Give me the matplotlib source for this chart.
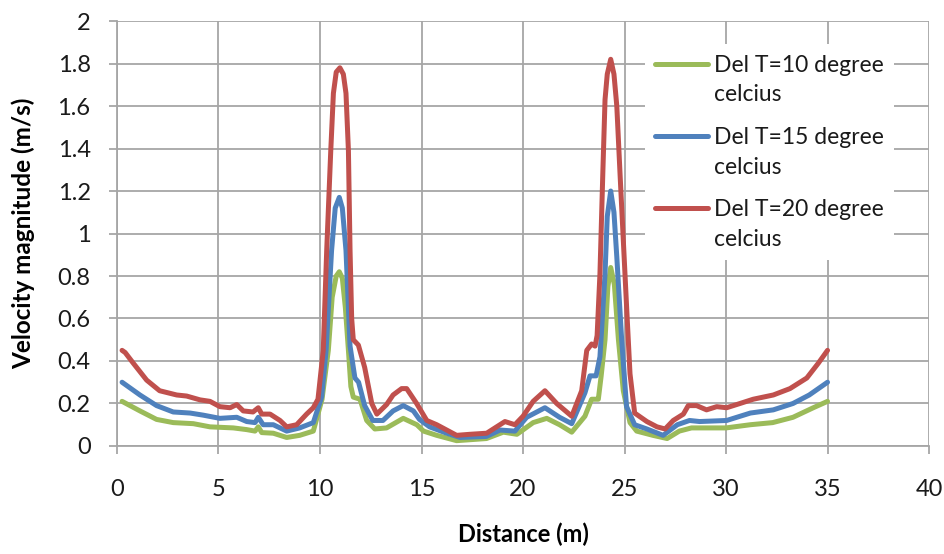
import matplotlib.pyplot as plt

# Del T = 20 degree
x_red = [0.25, 0.4, 0.8, 1.46, 2.1, 2.94, 3.43, 4.09, 4.58, 5.07, 5.57, 5.9, 6.22, 6.7, 6.96,
         7.13, 7.54, 8.03, 8.36, 8.85, 9.34, 9.67, 9.9, 10.16, 10.33, 10.53, 10.66, 10.8, 10.98,
         11.15, 11.28, 11.4, 11.48, 11.56, 11.64, 11.89, 12.2, 12.55, 12.8, 13.28, 13.6, 14.02,
         14.27, 14.76, 15.26, 15.75, 16.73, 17.39, 18.21, 18.7, 19.11, 19.6, 20.0, 20.5, 21.08,
         21.66, 22.4, 22.89, 23.14, 23.38, 23.55, 23.65, 23.79, 23.93, 24.04, 24.15, 24.32, 24.48,
         24.62, 24.78, 24.94, 25.1, 25.27, 25.5, 26.1, 26.6, 27.0, 27.4, 27.9, 28.14, 28.55,
         29.04, 29.54, 30.03, 30.69, 31.34, 32.33, 33.15, 33.98, 34.55, 35.0]
y_red = [0.45, 0.44, 0.39, 0.31, 0.26, 0.24, 0.235, 0.217, 0.21, 0.185, 0.18, 0.195, 0.165, 0.16, 0.18,
         0.15, 0.15, 0.12, 0.09, 0.10, 0.15, 0.18, 0.22, 0.45, 0.92, 1.39, 1.66, 1.76, 1.78,
         1.75, 1.66, 1.39, 0.92, 0.6, 0.5, 0.475, 0.37, 0.2, 0.15, 0.195, 0.24, 0.27,
         0.27, 0.2, 0.12, 0.1, 0.05, 0.055, 0.06, 0.09, 0.115, 0.10, 0.14, 0.21, 0.26,
         0.2, 0.14, 0.26, 0.45, 0.48, 0.47, 0.52, 0.81, 1.28, 1.63, 1.75, 1.82, 1.75,
         1.6, 1.28, 0.97, 0.66, 0.34, 0.155, 0.115, 0.09, 0.08, 0.12, 0.15, 0.19, 0.19,
         0.17, 0.185, 0.18, 0.2, 0.22, 0.24, 0.27, 0.32, 0.39, 0.45]

# Del T = 15 degree
x_blue = [0.25, 1.13, 1.95, 2.77, 3.6, 4.25, 5.07, 5.9, 6.39, 6.8, 6.96, 7.2, 7.7, 8.36, 9.0,
          9.67, 10.08, 10.3, 10.57, 10.75, 10.95, 11.1, 11.28, 11.48, 11.72, 11.9, 12.2, 12.6,
          13.1, 13.6, 14.1, 14.6, 14.9, 15.4, 16.24, 16.9, 18.2, 18.87, 19.6, 20.18, 21.08, 21.8,
          22.4, 23.05, 23.3, 23.46, 23.6, 23.79, 24.04, 24.15, 24.32, 24.48, 24.62, 24.86, 25.1,
          25.5, 26.1, 26.9, 27.6, 28.2, 28.7, 30.03, 31.2, 32.33, 33.3, 34.1, 35.0]
y_blue = [0.30, 0.24, 0.19, 0.16, 0.155, 0.145, 0.13, 0.135, 0.115, 0.11, 0.135, 0.10, 0.10, 0.07, 0.085,
          0.11, 0.23, 0.45, 0.92, 1.12, 1.17, 1.12, 0.92, 0.47, 0.32, 0.30, 0.19, 0.12,
          0.12, 0.165, 0.19, 0.165, 0.125, 0.09, 0.06, 0.04, 0.045, 0.075, 0.07, 0.135, 0.18, 0.135,
          0.105, 0.25, 0.33, 0.33, 0.33, 0.42, 0.81, 1.08, 1.2, 1.1, 0.89, 0.5, 0.185,
          0.1, 0.08, 0.05, 0.10, 0.12, 0.115, 0.12, 0.155, 0.17, 0.2, 0.24, 0.30]

# Del T = 10 degree
x_green = [0.25, 1.13, 1.95, 2.77, 3.76, 4.58, 5.73, 6.39, 6.8, 6.96, 7.13, 7.7, 8.36, 9.0, 9.67,
           10.1, 10.41, 10.6, 10.8, 10.95, 11.1, 11.25, 11.4, 11.52, 11.64, 11.97, 12.3, 12.7,
           13.28, 14.1, 14.77, 15.1, 15.75, 16.73, 18.2, 19.03, 19.7, 20.5, 21.17, 21.8, 22.4,
           23.05, 23.38, 23.6, 23.71, 23.85, 24.04, 24.18, 24.32, 24.5, 24.7, 24.94, 25.27, 25.6,
           26.4, 27.1, 27.7, 28.3, 30.0, 31.2, 32.3, 33.3, 34.3, 35.0]
y_green = [0.21, 0.165, 0.125, 0.11, 0.105, 0.09, 0.085, 0.077, 0.07, 0.09, 0.063, 0.06, 0.04, 0.05, 0.07,
           0.22, 0.45, 0.7, 0.8, 0.82, 0.79, 0.65, 0.45, 0.28, 0.23, 0.22, 0.12, 0.08,
           0.085, 0.13, 0.10, 0.07, 0.05, 0.025, 0.035, 0.065, 0.055, 0.11, 0.13, 0.10, 0.065,
           0.14, 0.22, 0.22, 0.22, 0.33, 0.5, 0.75, 0.84, 0.76, 0.5, 0.26, 0.11, 0.07,
           0.05, 0.035, 0.07, 0.085, 0.085, 0.10, 0.11, 0.135, 0.18, 0.21]

labels = ['Del T=10 degree\ncelcius', 'Del T=15 degree\ncelcius', 'Del T=20 degree\ncelcius']
colors = ['#9BBB59', '#4F81BD', '#C0504D']

plt.rcParams['font.family'] = ['Lato', 'DejaVu Sans']

fig = plt.figure(figsize=(9.45, 5.54), dpi=100)
ax = fig.add_axes([0.1238, 0.195, 0.8593, 0.767])

series = [(x_green, y_green), (x_blue, y_blue), (x_red, y_red)]
for (xs, ys), lab, col in zip(series, labels, colors):
    ax.plot(xs, ys, color=col, lw=3.6, label=lab, solid_capstyle='round', solid_joinstyle='round')

ax.set_xlim(0, 40)
ax.set_ylim(0, 2)
ax.set_xticks(range(0, 41, 5))
ax.set_yticks([0, 0.2, 0.4, 0.6, 0.8, 1, 1.2, 1.4, 1.6, 1.8, 2])
ax.set_yticklabels(['0', '0.2', '0.4', '0.6', '0.8', '1', '1.2', '1.4', '1.6', '1.8', '2'])

ax.grid(True, color='#A6A6A6', lw=1.3)
ax.set_axisbelow(True)
for s in ['top', 'right']:
    ax.spines[s].set_visible(False)
for s in ['left', 'bottom']:
    ax.spines[s].set_color('#A6A6A6')
    ax.spines[s].set_linewidth(1.3)
ax.tick_params(axis='both', color='#A6A6A6', width=1.3, length=6, labelsize=17, labelcolor='#1a1a1a')
ax.tick_params(axis='x', pad=18)
ax.tick_params(axis='y', pad=13)

ax.set_xlabel('Distance (m)', fontsize=17, fontweight='bold', labelpad=16)
ax.set_ylabel('Velocity magnitude (m/s)', fontsize=17.5, fontweight='bold', labelpad=16)

leg = ax.legend(loc='upper left', bbox_to_anchor=(0.650, 0.945), fontsize=16.5, frameon=True,
                fancybox=False, edgecolor='none', facecolor='white', framealpha=1,
                handlelength=2.3, handletextpad=0.25, labelspacing=0.95, borderpad=0.45,
                borderaxespad=0)
for t in leg.get_texts():
    t.set_color('#1a1a1a')
    t.set_linespacing(1.5)
# line the handles up with the first line of each label
for line in leg.get_lines():
    line.set_linewidth(3.6)
    yd = line.get_ydata()
    line.set_ydata([v + 12 for v in yd])

fig.savefig('out.png', dpi=100)
